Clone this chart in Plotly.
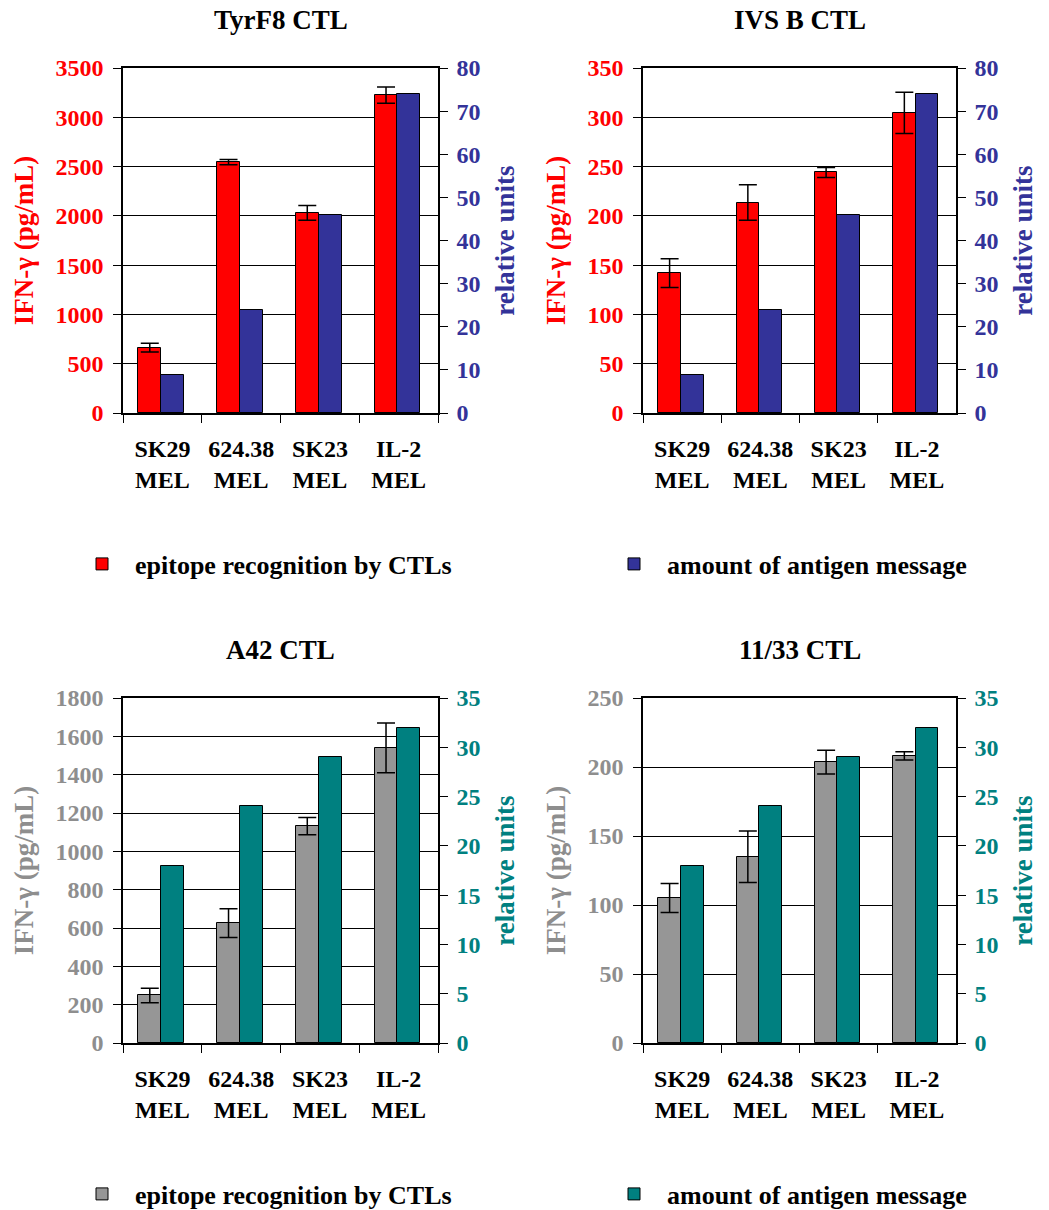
import plotly.graph_objects as go

# ---- data -------------------------------------------------------------
categories = ["SK29<br>MEL", "624.38<br>MEL", "SK23<br>MEL", "IL-2<br>MEL"]
panel_titles = ["TyrF8 CTL", "IVS B CTL", "A42 CTL", "11/33 CTL"]
series_names = ["epitope recognition by CTLs", "amount of antigen message"]

tyrf8_ifn = [663, 2545, 2030, 3225]
tyrf8_err = [45, 27, 75, 83]
tyrf8_rel = [8.8, 24.0, 46.0, 74.0]

ivsb_ifn = [142, 213.5, 244, 304.5]
ivsb_err = [14.6, 18, 5, 21]
ivsb_rel = [8.8, 24.0, 46.0, 74.0]

a42_ifn = [248, 625, 1132, 1540]
a42_err = [38, 75, 45, 130]
a42_rel = [18, 24, 29, 32]

c1133_ifn = [105, 135, 203.5, 208]
c1133_err = [10.5, 18.7, 8.6, 3]
c1133_rel = [18, 24, 29, 32]

left_max = [3500, 350, 1800, 250]
left_step = [500, 50, 200, 50]
right_max = [80, 80, 35, 35]
right_step = [10, 10, 5, 5]

# ---- styling ----------------------------------------------------------
W, H = 1049, 1210
FONT = "Liberation Serif"
RED, BLUE, GRAY, TEAL = "#FF0000", "#333399", "#969696", "#008080"
GRAY_TXT = "#8E8E8E"

panels = [
    dict(ifn=tyrf8_ifn, err=tyrf8_err, rel=tyrf8_rel, c1=RED, c2=BLUE, t1=RED, t2=BLUE,
         legends=("legend", "legend2")),
    dict(ifn=ivsb_ifn, err=ivsb_err, rel=ivsb_rel, c1=RED, c2=BLUE, t1=RED, t2=BLUE,
         legends=None),
    dict(ifn=a42_ifn, err=a42_err, rel=a42_rel, c1=GRAY, c2=TEAL, t1=GRAY_TXT, t2=TEAL,
         legends=("legend3", "legend4")),
    dict(ifn=c1133_ifn, err=c1133_err, rel=c1133_rel, c1=GRAY, c2=TEAL, t1=GRAY_TXT, t2=TEAL,
         legends=None),
]

x_domains = [[123 / W, 438 / W], [643 / W, 956 / W]]
y_domains = [[1 - 413 / H, 1 - 68 / H], [1 - 1043 / H, 1 - 698 / H]]


def axkey(letter, n):
    return f"{letter}axis" if n == 1 else f"{letter}axis{n}"


def ref(letter, n):
    return letter if n == 1 else f"{letter}{n}"


fig = go.Figure()
layout = {}
annotations = []

BAR_W = 0.29
for i, p in enumerate(panels):
    xn = i + 1
    yl = 2 * i + 1
    yr = 2 * i + 2
    x_in = 5 + i      # overlay x axis carrying the inward half of the category ticks
    y_in = 9 + i      # overlay y axis carrying the inward half of the right ticks
    xd = x_domains[i % 2]
    yd = y_domains[i // 2]
    show = p["legends"] is not None
    lg = p["legends"] or ("legend", "legend")

    fig.add_trace(go.Bar(
        x=categories, y=p["ifn"], xaxis=ref("x", xn), yaxis=ref("y", yl),
        name=series_names[0], width=BAR_W, offset=-0.305,
        marker=dict(color=p["c1"], line=dict(color="black", width=1)),
        error_y=dict(type="data", array=p["err"], color="black", thickness=1.5, width=9),
        showlegend=show, legend=lg[0],
    ))
    fig.add_trace(go.Bar(
        x=categories, y=p["rel"], xaxis=ref("x", xn), yaxis=ref("y", yr),
        name=series_names[1], width=BAR_W, offset=-0.015,
        marker=dict(color=p["c2"], line=dict(color="black", width=1)),
        showlegend=show, legend=lg[1],
    ))

    tick_font = dict(family=FONT, size=24, color="black", weight="bold")
    layout[axkey("x", xn)] = dict(
        domain=xd, anchor=ref("y", yl), type="category",
        categoryorder="array", categoryarray=categories, range=[-0.5, 3.5],
        tickson="boundaries", ticks="outside", ticklen=8, tickwidth=1, tickcolor="black",
        showline=True, linecolor="black", linewidth=1.5, mirror=True,
        showgrid=False, zeroline=False, tickfont=tick_font, ticklabelstandoff=13,
        automargin=False, fixedrange=True,
    )
    layout[axkey("x", x_in)] = dict(
        domain=xd, anchor=ref("y", yl), overlaying=ref("x", xn), type="linear",
        range=[-0.5, 3.5], tickmode="array", tickvals=[-0.5, 0.5, 1.5, 2.5, 3.5],
        ticks="inside", ticklen=8, tickwidth=1, tickcolor="black",
        showticklabels=False, showline=False, showgrid=False, zeroline=False,
        automargin=False,
    )
    layout[axkey("y", yl)] = dict(
        domain=yd, anchor=ref("x", xn), range=[0, left_max[i]], dtick=left_step[i],
        ticks="outside", ticklen=8, tickwidth=1, tickcolor="black",
        showline=True, linecolor="black", linewidth=1.5,
        showgrid=True, gridcolor="black", gridwidth=1, zeroline=False,
        tickfont=dict(family=FONT, size=24, color=p["t1"], weight="bold"),
        ticklabelstandoff=5, automargin=False,
        title=dict(text="IFN-γ (pg/mL)", standoff=14,
                   font=dict(family=FONT, size=27, color=p["t1"], weight="bold")),
    )
    layout[axkey("y", yr)] = dict(
        domain=yd, anchor=ref("x", xn), overlaying=ref("y", yl), side="right",
        range=[0, right_max[i]], dtick=right_step[i],
        ticks="outside", ticklen=8, tickwidth=1, tickcolor="black",
        showline=True, linecolor="black", linewidth=1.5,
        showgrid=False, zeroline=False,
        tickfont=dict(family=FONT, size=24, color=p["t2"], weight="bold"),
        ticklabelstandoff=4, automargin=False,
        title=dict(text="relative units", standoff=16,
                   font=dict(family=FONT, size=27, color=p["t2"], weight="bold")),
    )
    layout[axkey("y", y_in)] = dict(
        domain=yd, anchor=ref("x", xn), overlaying=ref("y", yl), side="right",
        range=[0, right_max[i]], dtick=right_step[i],
        ticks="inside", ticklen=8, tickwidth=1, tickcolor="black",
        showticklabels=False, showline=False, showgrid=False, zeroline=False,
        automargin=False,
    )

    annotations.append(dict(
        text=panel_titles[i], xref="paper", yref="paper",
        x=(xd[0] + xd[1]) / 2, y=yd[1] + 48 / H, xanchor="center", yanchor="middle",
        showarrow=False, font=dict(family=FONT, size=27, color="black", weight="bold"),
    ))


def legend_at(px_x, px_y):
    return dict(
        x=px_x / W, y=1 - px_y / H, xanchor="left", yanchor="middle",
        orientation="h", itemwidth=56, bgcolor="rgba(0,0,0,0)",
        font=dict(family=FONT, size=26, color="black", weight="bold"),
    )


fig.update_layout(
    width=W, height=H,
    margin=dict(l=0, r=0, t=0, b=0, autoexpand=False),
    paper_bgcolor="white", plot_bgcolor="white",
    barmode="overlay", bargap=0,
    font=dict(family=FONT, color="black", weight="bold"),
    legend=legend_at(69, 564),
    legend2=legend_at(601, 564),
    legend3=legend_at(69, 1194),
    legend4=legend_at(601, 1194),
    annotations=annotations,
    **layout,
)

fig.write_html("out.html")
